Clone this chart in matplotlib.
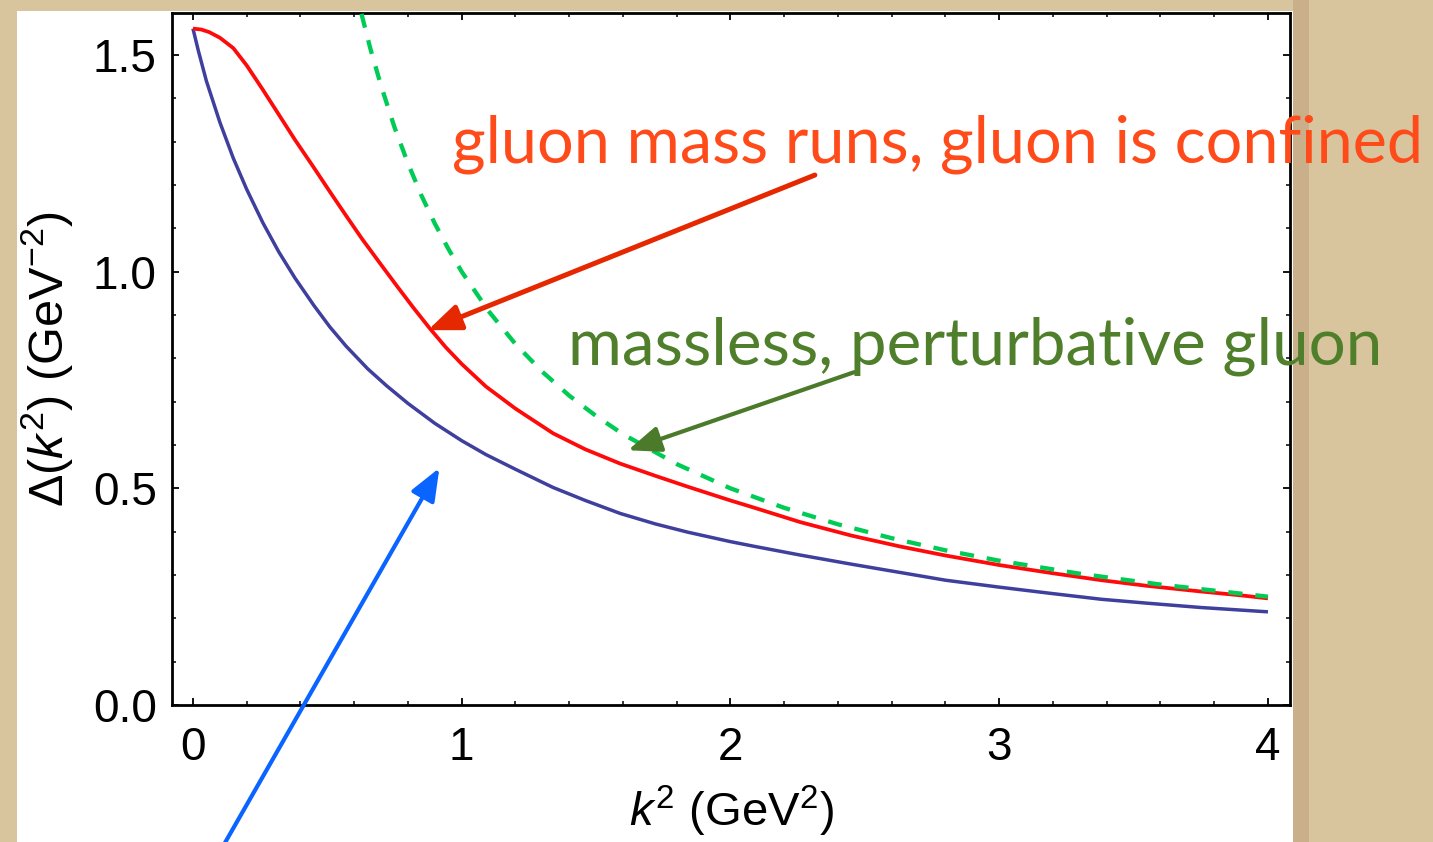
import matplotlib
matplotlib.use('Agg')
import matplotlib.pyplot as plt
from matplotlib.patches import Rectangle
from matplotlib.ticker import MultipleLocator, FormatStrFormatter

# ---- data ----
red_x = [0.0, 0.03, 0.06, 0.1, 0.15, 0.2, 0.26, 0.32, 0.38, 0.45, 0.51, 0.57,
         0.63, 0.7, 0.76, 0.82, 0.88, 0.94, 1.0, 1.09, 1.2, 1.34, 1.46, 1.59,
         1.72, 1.84, 2.0, 2.09, 2.26, 2.45, 2.63, 2.8, 3.0, 3.2, 3.38, 3.55,
         3.75, 3.9, 4.0]
red_y = [1.561, 1.559, 1.553, 1.540, 1.516, 1.476, 1.420, 1.362, 1.304, 1.240,
         1.184, 1.129, 1.075, 1.016, 0.966, 0.917, 0.870, 0.826, 0.787, 0.735,
         0.684, 0.627, 0.590, 0.557, 0.529, 0.504, 0.472, 0.455, 0.422, 0.391,
         0.366, 0.345, 0.323, 0.304, 0.288, 0.275, 0.262, 0.253, 0.246]

blue_x = [0.0, 0.02, 0.05, 0.1, 0.15, 0.2, 0.26, 0.32, 0.38, 0.45, 0.51, 0.57,
          0.65, 0.72, 0.8, 0.9, 1.0, 1.09, 1.2, 1.34, 1.46, 1.59, 1.72, 1.84,
          2.0, 2.09, 2.26, 2.45, 2.63, 2.8, 3.0, 3.2, 3.38, 3.55, 3.75, 3.9, 4.0]
blue_y = [1.561, 1.510, 1.440, 1.345, 1.262, 1.190, 1.113, 1.045, 0.985, 0.922,
          0.872, 0.828, 0.776, 0.737, 0.696, 0.650, 0.610, 0.578, 0.544, 0.502,
          0.472, 0.442, 0.418, 0.399, 0.377, 0.366, 0.346, 0.325, 0.306, 0.288,
          0.272, 0.257, 0.244, 0.235, 0.225, 0.219, 0.215]

green_x = [0.627, 0.66, 0.7, 0.75, 0.8, 0.85, 0.9, 0.95, 1.0, 1.1, 1.2, 1.3,
           1.4, 1.5, 1.6, 1.8, 2.0, 2.2, 2.4, 2.6, 2.8, 3.0, 3.3, 3.6, 4.0]
green_y = [1.595, 1.515, 1.429, 1.333, 1.250, 1.176, 1.111, 1.053, 1.000,
           0.909, 0.833, 0.769, 0.714, 0.667, 0.625, 0.556, 0.500, 0.455,
           0.417, 0.385, 0.357, 0.333, 0.303, 0.278, 0.250]

x_ticks = [0, 1, 2, 3, 4]
y_ticks = [0.0, 0.5, 1.0, 1.5]

label_red = 'gluon mass runs, gluon is confined'
label_green = 'massless, perturbative gluon'
xlabel = r'$k^2$ (GeV$^2$)'
ylabel = r'$\Delta(k^2)$ (GeV$^{-2}$)'

# ---- figure ----
plt.rcParams['mathtext.fontset'] = 'custom'
plt.rcParams['mathtext.rm'] = 'Liberation Sans'
plt.rcParams['mathtext.it'] = 'Liberation Sans:italic'
plt.rcParams['mathtext.sf'] = 'Liberation Sans'
plt.rcParams['font.family'] = ['Liberation Sans', 'DejaVu Sans']

W, H = 1433, 842
fig = plt.figure(figsize=(W / 100, H / 100), dpi=100, facecolor='#d8c49d')
fig.patches.append(Rectangle((1293 / W, 0), 16 / W, 1, transform=fig.transFigure,
                             facecolor='#c9b08a', edgecolor='none', zorder=0))
fig.patches.append(Rectangle((17 / W, 0), (1293 - 17) / W, (842 - 11) / H,
                             transform=fig.transFigure, facecolor='white',
                             edgecolor='none', zorder=0))

ax = fig.add_axes([172 / W, 137 / H, (1290 - 172) / W, (705 - 13) / H])
ax.set_zorder(5)
ax.set_facecolor('white')

ax.plot(blue_x, blue_y, color='#3f3f9e', lw=2.5, solid_joinstyle='round',
        solid_capstyle='butt', zorder=3)
ax.plot(red_x, red_y, color='#ff0a0a', lw=2.7, solid_joinstyle='round',
        solid_capstyle='butt', zorder=4)
ax.plot(green_x, green_y, color='#00cc55', lw=3.1, dashes=(3.3, 3.0), zorder=5)

ax.set_xlim(-0.078, 4.082)
ax.set_ylim(0, 1.597)

ax.set_xticks(x_ticks)
ax.set_yticks(y_ticks)
ax.xaxis.set_minor_locator(MultipleLocator(0.2))
ax.yaxis.set_minor_locator(MultipleLocator(0.1))
ax.yaxis.set_major_formatter(FormatStrFormatter('%.1f'))
ax.tick_params(which='both', direction='in', top=True, right=True, color='black')
ax.tick_params(which='major', length=5, width=1.3, labelsize=33)
ax.tick_params(which='minor', length=2.6, width=1.1)
ax.tick_params(axis='x', which='major', pad=15)
ax.tick_params(axis='y', which='major', pad=11)
for s in ax.spines.values():
    s.set_linewidth(2.0)

ax.set_xlabel(xlabel, fontsize=34, labelpad=10)
ax.set_ylabel(ylabel, fontsize=35, labelpad=13)

# arrows
def arrow(tip, tail, color, lw, hl=0.9, hw=0.36, ms=22):
    ax.annotate('', xy=tip, xytext=tail, xycoords='data', textcoords='data',
                annotation_clip=False,
                arrowprops=dict(arrowstyle=f'-|>,head_length={hl},head_width={hw}',
                                color=color, lw=lw, shrinkA=0, shrinkB=0,
                                mutation_scale=ms), zorder=6)

arrow((0.874, 0.865), (2.314, 1.223), '#e62800', 3.6)
arrow((1.619, 0.588), (2.46, 0.768), '#4a7a2a', 3.0)
arrow((0.917, 0.547), (0.108, -0.33), '#0a64ff', 3.0)

t1 = ax.text(0.964, 1.251, label_red, color='#ff4a1a', fontsize=40, family='Lato',
             va='baseline', ha='left', clip_on=False, zorder=7)
t2 = ax.text(1.395, 0.785, label_green, color='#4f7f2b', fontsize=40, family='Lato',
             va='baseline', ha='left', clip_on=False, zorder=7)

fig.canvas.draw()
r = fig.canvas.get_renderer()
for t, target in ((t1, 970), (t2, 813)):
    w = t.get_window_extent(r).width
    t.set_fontsize(40 * target / w)

fig.savefig('out.png', dpi=100, facecolor=fig.get_facecolor())
